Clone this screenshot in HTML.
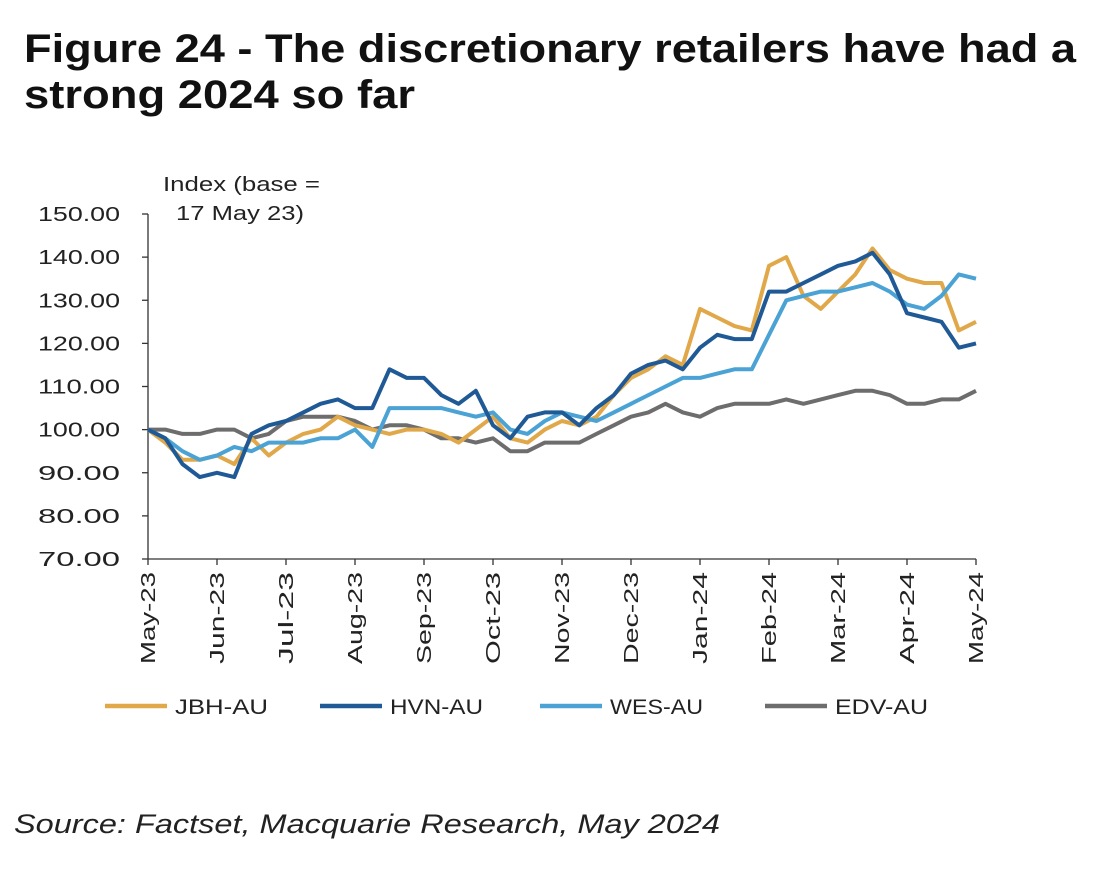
<!DOCTYPE html>
<html><head><meta charset="utf-8"><style>
body{margin:0;width:1100px;height:868px;background:#fff;overflow:hidden;font-family:"Liberation Sans",sans-serif}
</style></head><body>
<svg width="1100" height="868" viewBox="0 0 1100 868">
<text x="24" y="62" font-size="40" font-weight="bold" fill="#111" textLength="1052" lengthAdjust="spacingAndGlyphs">Figure 24 - The discretionary retailers have had a</text>
<text x="24" y="108" font-size="40" font-weight="bold" fill="#111" textLength="391" lengthAdjust="spacingAndGlyphs">strong 2024 so far</text>
<text font-size="20" fill="#222"><tspan x="163" y="191" textLength="157" lengthAdjust="spacingAndGlyphs">Index (base =</tspan><tspan x="176" y="220" textLength="128" lengthAdjust="spacingAndGlyphs">17 May 23)</tspan></text>
<g id="axes"></g>
<g id="series"></g>
<g id="legend"></g>
<text x="14" y="833" font-size="27" font-style="italic" fill="#222" textLength="706" lengthAdjust="spacingAndGlyphs">Source: Factset, Macquarie Research, May 2024</text>
</svg>
<script>
const monthLabels=["May-23","Jun-23","Jul-23","Aug-23","Sep-23","Oct-23","Nov-23","Dec-23","Jan-24","Feb-24","Mar-24","Apr-24","May-24"];
const yTicks=[70,80,90,100,110,120,130,140,150];
const seriesNames=["JBH-AU","HVN-AU","WES-AU","EDV-AU"];
const seriesColors=["#e1a84a","#1f5a96","#4aa3d4","#6d6d6d"];
// time in months since 17 May 23 (step 0.25)
const timeMonths=[0,0.25,0.5,0.75,1,1.25,1.5,1.75,2,2.25,2.5,2.75,3,3.25,3.5,3.75,4,4.25,4.5,4.75,5,5.25,5.5,5.75,6,6.25,6.5,6.75,7,7.25,7.5,7.75,8,8.25,8.5,8.75,9,9.25,9.5,9.75,10,10.25,10.5,10.75,11,11.25,11.5,11.75,12];
const jbh=[100,97,93,93,94,92,98,94,97,99,100,103,101,100,99,100,100,99,97,100,103,98,97,100,102,101,103,108,112,114,117,115,128,126,124,123,138,140,131,128,132,136,142,137,135,134,134,123,125];
const hvn=[100,98,92,89,90,89,99,101,102,104,106,107,105,105,114,112,112,108,106,109,101,98,103,104,104,101,105,108,113,115,116,114,119,122,121,121,132,132,134,136,138,139,141,136,127,126,125,119,120];
const wes=[100,98,95,93,94,96,95,97,97,97,98,98,100,96,105,105,105,105,104,103,104,100,99,102,104,103,102,104,106,108,110,112,112,113,114,114,122,130,131,132,132,133,134,132,129,128,131,136,135];
const edv=[100,100,99,99,100,100,98,99,102,103,103,103,102,100,101,101,100,98,98,97,98,95,95,97,97,97,99,101,103,104,106,104,103,105,106,106,106,107,106,107,108,109,109,108,106,106,107,107,109];
const seriesData=[jbh,hvn,wes,edv];

const X0=148,X1=976,Y0=559,Y1=214,NS="http://www.w3.org/2000/svg";
const xScale=t=>X0+(t/12)*(X1-X0);
const yScale=v=>Y0-(v-70)/(150-70)*(Y0-Y1);
function mk(tag,attrs,parent){const e=document.createElementNS(NS,tag);for(const k in attrs)e.setAttribute(k,attrs[k]);parent.appendChild(e);return e;}
const axes=document.getElementById('axes');
let a=mk('line',{x1:X0,x2:X0,y1:Y1,y2:Y0,stroke:'#333','stroke-width':1.3},axes);


a=mk('line',{x1:X0,x2:X1,y1:Y0,y2:Y0,stroke:'#333','stroke-width':1.3},axes);


yTicks.forEach(v=>{const y=yScale(v);
 const tk=mk('line',{x1:X0-6,x2:X0,y1:y,y2:y,stroke:'#333','stroke-width':1.3},axes);
 
 
 const tx=mk('text',{x:38,y:y+7,'font-size':20,fill:'#222',textLength:82,lengthAdjust:'spacingAndGlyphs'},axes);
 tx.textContent=v.toFixed(2);
 
 
});
monthLabels.forEach((m,i)=>{const x=xScale(i);
 const tk=mk('line',{x1:x,x2:x,y1:Y0,y2:Y0+6,stroke:'#333','stroke-width':1.3},axes);
 
 
 const tx=mk('text',{x:-664,y:0,'font-size':20,fill:'#222',textLength:92,lengthAdjust:'spacingAndGlyphs',transform:`translate(${x+7},0) rotate(-90)`},axes);
 tx.textContent=m;
 
 
});
const sg=document.getElementById('series');
[3,0,2,1].forEach(si=>{const d=seriesData[si];
 const pts=d.map((v,i)=>xScale(timeMonths[i]).toFixed(1)+','+yScale(v).toFixed(1)).join(' ');
 const pl=mk('polyline',{points:pts,fill:'none',stroke:seriesColors[si],'stroke-width':4,'stroke-linejoin':'round'},sg);
 
 
});
const lg=document.getElementById('legend');
const lx=[105,320,540,765];
seriesNames.forEach((n,i)=>{
 const l=mk('line',{x1:lx[i],x2:lx[i]+62,y1:706,y2:706,stroke:seriesColors[i],'stroke-width':4.5},lg);
 
 
 const t=mk('text',{x:lx[i]+70,y:714,'font-size':21,fill:'#222',textLength:93,lengthAdjust:'spacingAndGlyphs'},lg);
 t.textContent=n;
 
 
});
</script>
</body></html>
